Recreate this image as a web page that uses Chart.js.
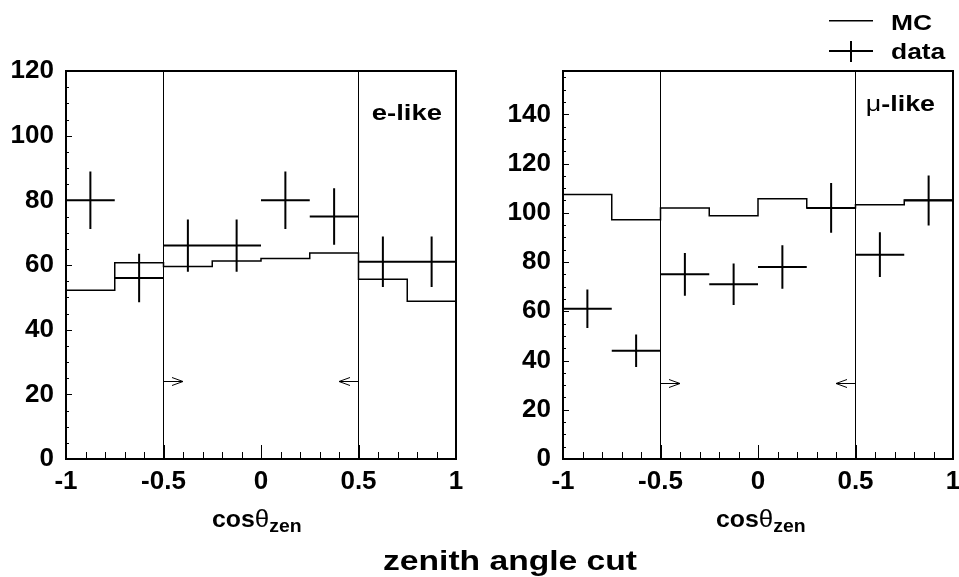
<!DOCTYPE html>
<html><head><meta charset="utf-8">
<script src="https://cdn.jsdelivr.net/npm/chart.js@4.4.0/dist/chart.umd.min.js"></script>
<style>
html,body{margin:0;padding:0;background:#fff;}
#wrap{position:relative;width:959px;height:577px;overflow:hidden;background:#fff;}
canvas{position:absolute;top:0;}
#title{position:absolute;left:510px;top:547px;white-space:nowrap;font:bold 28px 'Liberation Sans',Arial,sans-serif;line-height:28px;color:#000;transform:translateX(-50%) scaleX(1.2);}
</style></head>
<body><div id="wrap">
<canvas id="cL" width="480" height="577" style="left:0"></canvas>
<canvas id="cR" width="488" height="577" style="left:480px"></canvas>
<div id="title">zenith angle cut</div>
</div>
<script>
// ---- data ----
const binEdges   = [-1, -0.75, -0.5, -0.25, 0, 0.25, 0.5, 0.75, 1];
const binCenters = [-0.875, -0.625, -0.375, -0.125, 0.125, 0.375, 0.625, 0.875];
const eMC    = [52.2, 60.7, 59.5, 61.2, 62.0, 63.7, 55.6, 48.8];
const eData  = [80, 56, 66, 66, 80, 75, 61, 61];
const eErr   = [8.9, 7.5, 8.1, 8.1, 8.9, 8.7, 7.8, 7.8];
const muMC   = [107.4, 97.2, 102.0, 98.8, 105.7, 102.0, 103.3, 105.2];
const muData = [61, 44, 75, 71, 78, 102, 83, 105];
const muErr  = [7.8, 6.6, 8.7, 8.4, 8.8, 10.1, 9.1, 10.2];
const cutRange = [-0.5, 0.5];
const eArrowY = 24;
const muArrowY = 31;
const xTickLabels  = [-1, -0.5, 0, 0.5, 1];
const eYTicks  = [0, 20, 40, 60, 80, 100, 120];
const muYTicks = [0, 20, 40, 60, 80, 100, 120, 140];
const eYMax = 120;
const muYMax = 157.6;

const FONT = "'Liberation Sans', Arial, sans-serif";
Chart.defaults.color = '#000';

function stretchedText(ctx, parts, x, baseline, sx, align) {
  let w = 0;
  parts.forEach(p => { ctx.font = p.font; p.w = ctx.measureText(p.t).width; w += p.w; });
  let start = align === 'right' ? x - w * sx : (align === 'center' ? x - w * sx / 2 : x);
  ctx.save();
  ctx.translate(start, baseline);
  ctx.scale(sx, 1);
  ctx.fillStyle = '#000';
  ctx.textBaseline = 'alphabetic';
  ctx.textAlign = 'left';
  let cx = 0;
  parts.forEach(p => { ctx.font = p.font; ctx.fillText(p.t, cx, p.dy || 0); cx += p.w; });
  ctx.restore();
}

function makeChart(id, mc, dat, err, yMax, yTicks, arrowY, yWidth, padRight, extra) {
  const mcPts = binEdges.slice(0, mc.length).map((x, i) => ({x: x, y: mc[i]}));
  mcPts.push({x: binEdges[binEdges.length - 1], y: mc[mc.length - 1]});
  const crossPts = [];
  binCenters.forEach((c, i) => {
    const hw = (binEdges[i + 1] - binEdges[i]) / 2;
    crossPts.push({x: c - hw, y: dat[i]}, {x: c + hw, y: dat[i]}, {x: c, y: null});
    crossPts.push({x: c, y: dat[i] - err[i]}, {x: c, y: dat[i] + err[i]}, {x: c, y: null});
  });
  const cutPts = [];
  cutRange.forEach(c => { cutPts.push({x: c, y: 0}, {x: c, y: yMax}, {x: c, y: null}); });

  const plugin = {
    id: 'rootStyle',
    afterDatasetsDraw(chart) {
      const {ctx, chartArea: a} = chart;
      const x = chart.scales.x, y = chart.scales.y;
      ctx.save();
      ctx.strokeStyle = '#000';
      ctx.lineWidth = 1;
      ctx.beginPath();
      for (let k = -10; k <= 10; k++) {
        const px = Math.round(x.getPixelForValue(k / 10)) + 0.5;
        const len = (k % 5 === 0) ? 14 : 7;
        ctx.moveTo(px, a.bottom); ctx.lineTo(px, a.bottom - len);
      }
      for (let v = 0; v <= yMax; v += 5) {
        const py = Math.round(y.getPixelForValue(v)) + 0.5;
        const len = (v % 20 === 0) ? 6 : 3;
        ctx.moveTo(a.left, py); ctx.lineTo(a.left + len, py);
      }
      const ay = Math.round(y.getPixelForValue(arrowY)) + 0.5;
      const x0 = x.getPixelForValue(cutRange[0]), x0t = x.getPixelForValue(cutRange[0] + 0.1);
      const x1 = x.getPixelForValue(cutRange[1]), x1t = x.getPixelForValue(cutRange[1] - 0.1);
      ctx.moveTo(x0, ay); ctx.lineTo(x0t, ay);
      ctx.moveTo(x0t - 11, ay - 4); ctx.lineTo(x0t, ay); ctx.lineTo(x0t - 11, ay + 4);
      ctx.moveTo(x1, ay); ctx.lineTo(x1t, ay);
      ctx.moveTo(x1t + 11, ay - 4); ctx.lineTo(x1t, ay); ctx.lineTo(x1t + 11, ay + 4);
      ctx.stroke();
      ctx.lineWidth = 2;
      ctx.strokeRect(a.left, a.top, a.right - a.left, a.bottom - a.top);
      ctx.restore();
      extra(ctx, chart);
    }
  };

  return new Chart(document.getElementById(id), {
    type: 'line',
    data: {datasets: [
      {label: 'MC', data: mcPts, stepped: 'before', borderColor: '#000', borderWidth: 1.5, pointRadius: 0, fill: false},
      {label: 'data', data: crossPts, borderColor: '#000', borderWidth: 2, pointRadius: 0, spanGaps: false, fill: false},
      {label: 'cut', data: cutPts, borderColor: '#000', borderWidth: 1, pointRadius: 0, spanGaps: false, fill: false}
    ]},
    options: {
      responsive: false, animation: false, events: [],
      layout: {padding: {top: 71, right: padRight, bottom: 0, left: 0}},
      plugins: {legend: {display: false}, tooltip: {enabled: false}},
      scales: {
        x: {type: 'linear', min: -1, max: 1,
            afterBuildTicks: s => { s.ticks = xTickLabels.map(v => ({value: v})); },
            ticks: {font: {family: FONT, size: 26, weight: 'bold'}, padding: 7, color: '#000', maxRotation: 0, autoSkip: false, callback: v => String(v)},
            grid: {display: false, drawTicks: false}, border: {display: false},
            afterFit: s => { s.height = 118; }},
        y: {type: 'linear', min: 0, max: yMax,
            afterBuildTicks: s => { s.ticks = yTicks.map(v => ({value: v})); },
            ticks: {font: {family: FONT, size: 26, weight: 'bold'}, padding: 12, color: '#000', autoSkip: false, callback: v => String(v)},
            grid: {display: false, drawTicks: false}, border: {display: false},
            afterFit: s => { s.width = yWidth; }}
      }
    },
    plugins: [plugin]
  });
}

function axisTitle(ctx, startX) {
  stretchedText(ctx, [
    {t: 'cos', font: 'bold 23px ' + FONT},
    {t: 'θ', font: '24px ' + FONT},
    {t: 'zen', font: 'bold 18px ' + FONT, dy: 5}
  ], startX, 527, 1.08, 'left');
}

makeChart('cL', eMC, eData, eErr, eYMax, eYTicks, eArrowY, 66, 24, (ctx) => {
  stretchedText(ctx, [{t: 'e-like', font: 'bold 22.5px ' + FONT}], 442, 120, 1.22, 'right');
  axisTitle(ctx, 212);
});

makeChart('cR', muMC, muData, muErr, muYMax, muYTicks, muArrowY, 83, 15, (ctx) => {
  stretchedText(ctx, [{t: 'μ', font: '22px ' + FONT}, {t: '-like', font: 'bold 22px ' + FONT}], 455, 111, 1.22, 'right');
  axisTitle(ctx, 236);
  ctx.save();
  ctx.strokeStyle = '#000';
  ctx.lineWidth = 1.5;
  ctx.beginPath(); ctx.moveTo(349, 20.75); ctx.lineTo(393, 20.75); ctx.stroke();
  ctx.lineWidth = 2;
  ctx.beginPath(); ctx.moveTo(349, 51); ctx.lineTo(393, 51); ctx.moveTo(371, 41); ctx.lineTo(371, 62); ctx.stroke();
  ctx.restore();
  stretchedText(ctx, [{t: 'MC', font: 'bold 22px ' + FONT}], 411, 29.5, 1.2, 'left');
  stretchedText(ctx, [{t: 'data', font: 'bold 22px ' + FONT}], 411, 58.5, 1.2, 'left');
});
</script>
</body></html>
